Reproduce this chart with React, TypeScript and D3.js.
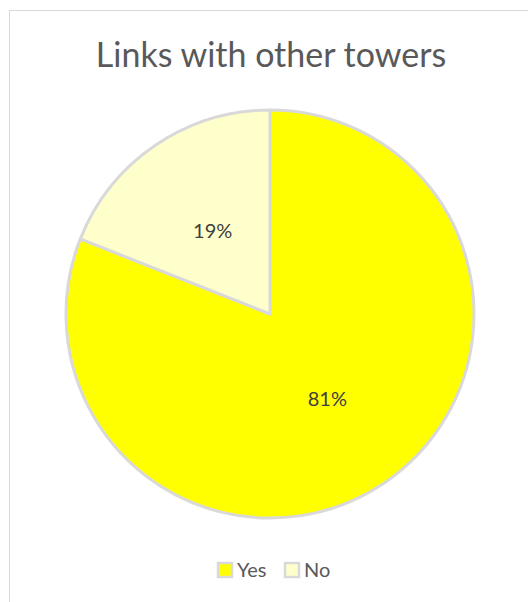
import React from "react";
import * as d3 from "d3";

const categories = ["Yes", "No"];
const values = [81, 19];
const colors = ["#FFFF00", "#FFFFCC"];
const title = "Links with other towers";

const W = 528;
const H = 602;
const FONT = "Lato, 'Open Sans', sans-serif";

export default function App() {
  const cx = 270;
  const cy = 314;
  const r = 204;
  const pie = d3.pie<number>().sort(null).value((d) => d);
  const arcs = pie(values);
  const arcGen = d3.arc<d3.PieArcDatum<number>>().innerRadius(0).outerRadius(r);
  const total = d3.sum(values);
  const labelArc = d3.arc<d3.PieArcDatum<number>>().innerRadius(r * 0.5).outerRadius(r * 0.5);

  const legendX = [217, 284];
  const legendTextX = [237, 304];

  return (
    <svg
      width={W}
      height={H}
      style={{ position: "absolute", left: 0, top: 0 }}
    >
      <rect x={0} y={0} width={W} height={H} fill="#ffffff" />
      <rect x={9.5} y={10.5} width={W + 20} height={H + 20} fill="#ffffff" stroke="#d9d9d9" strokeWidth={1} />
      <text
        x={cx + 1}
        y={67}
        textAnchor="middle"
        fontFamily={FONT}
        fontSize={34}
        fill="#595959"
      >
        {title}
      </text>
      <g transform={`translate(${cx},${cy})`}>
        {arcs.map((a, i) => (
          <path
            key={i}
            d={arcGen(a) || ""}
            fill={colors[i]}
            stroke="#d9d9d9"
            strokeWidth={3}
            strokeLinejoin="round"
          />
        ))}
        {arcs.map((a, i) => {
          const [lx, ly] = labelArc.centroid(a);
          return (
            <text
              key={"l" + i}
              x={lx}
              y={ly}
              textAnchor="middle"
              dominantBaseline="central"
              fontFamily={FONT}
              fontSize={20}
              fill="#404040"
            >
              {Math.round((values[i] / total) * 100) + "%"}
            </text>
          );
        })}
      </g>
      {categories.map((c, i) => (
        <g key={"lg" + i}>
          <rect
            x={legendX[i] + 1}
            y={563}
            width={14}
            height={14}
            fill={colors[i]}
            stroke="#d9d9d9"
            strokeWidth={2.5}
          />
          <text
            x={legendTextX[i]}
            y={577}
            fontFamily={FONT}
            fontSize={20}
            fill="#595959"
          >
            {c}
          </text>
        </g>
      ))}
    </svg>
  );
}
